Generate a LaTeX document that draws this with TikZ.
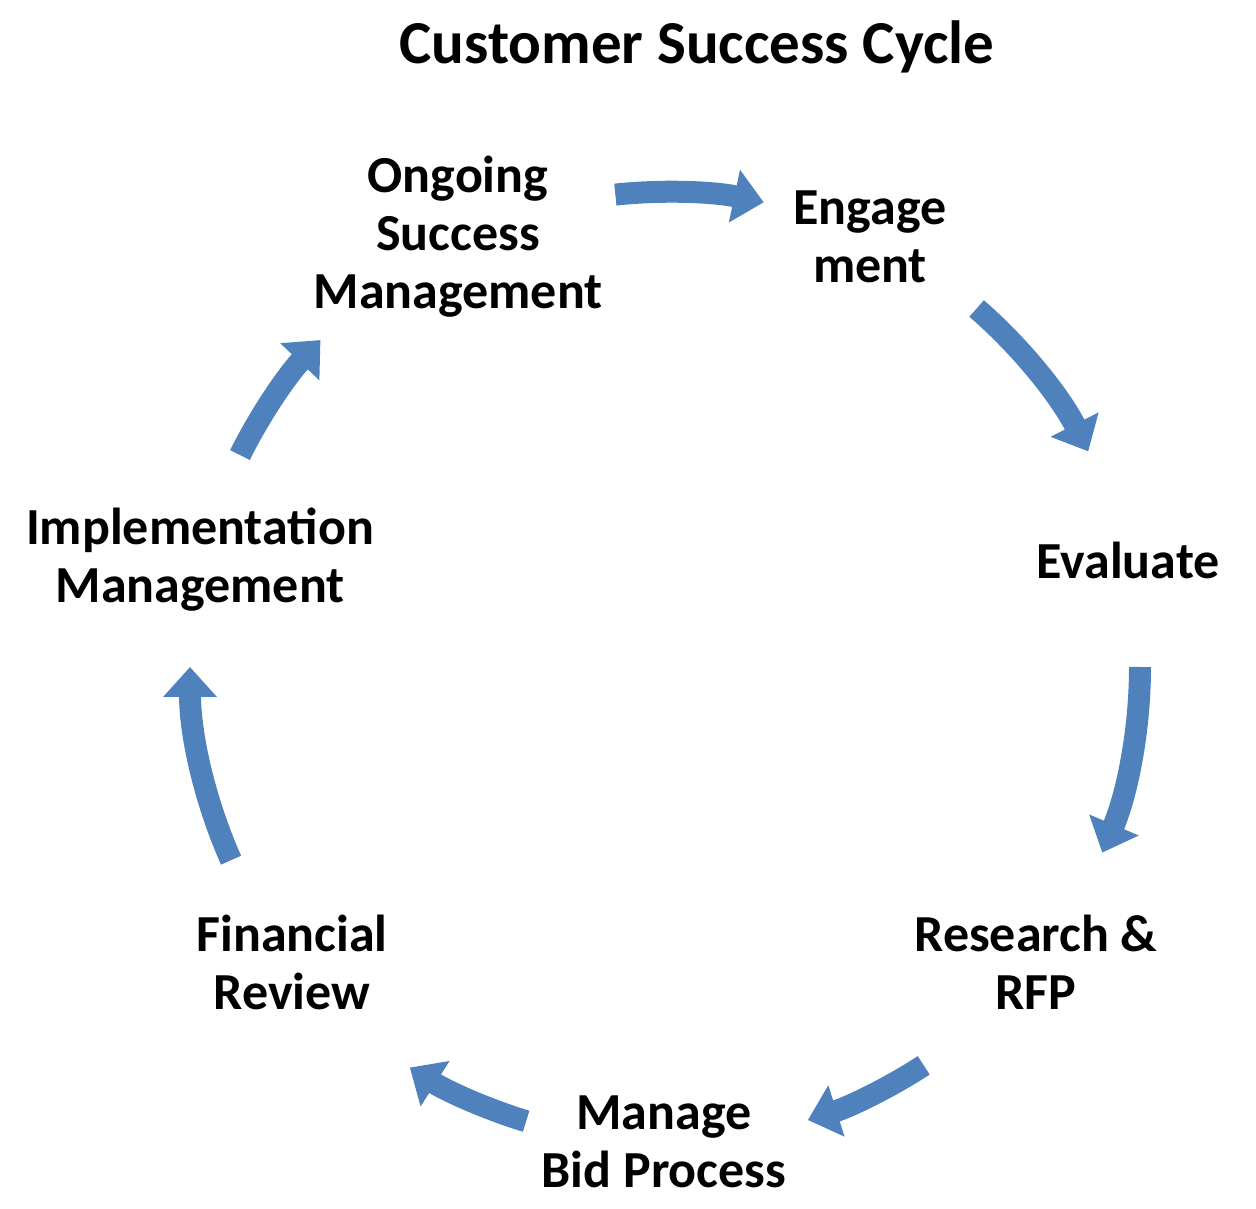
\documentclass[tikz,border=0pt]{standalone}
\usepackage{fontspec}
\setmainfont{Carlito}
\usetikzlibrary{arrows.meta,calc}
\definecolor{arr}{HTML}{4F81BD}
\begin{document}
\begin{tikzpicture}[x=1pt,y=1pt,
  lab/.style={font=\bfseries\fontsize{52}{58}\selectfont,align=center},
  cyc/.style={arr,line width=22pt,-{Triangle[width=52pt,length=30pt]}}]
\useasboundingbox (0,0) rectangle (1256,1209);
\coordinate (c) at (665,542);
\node[font=\bfseries\fontsize{61}{70}\selectfont] (title) at (697,1162) {Customer Success Cycle};
\node[lab] (ong) at (458,972) {Ongoing\\Success\\Management};
\node[lab] (eng) at (870,972) {Engage\\ment};
\node[lab] (eva) at (1128,649) {Evaluate};
\node[lab] (res) at (1036,247) {Research \&\\RFP};
\node[lab] (man) at (664,67) {Manage\\Bid Process};
\node[lab] (fin) at (292,247) {Financial\\Review};
\node[lab] (imp) at (200,649) {Implementation\\Management};
\foreach \a/\b in {96/78, 49/27, 0/-23, -57/-72.5, -107/-122.5, -156/-180, 153.5/136.5}{
  \draw[cyc] ($(c)+(\a:475)$) arc[start angle=\a,end angle=\b,radius=475];
}
\end{tikzpicture}
\end{document}
